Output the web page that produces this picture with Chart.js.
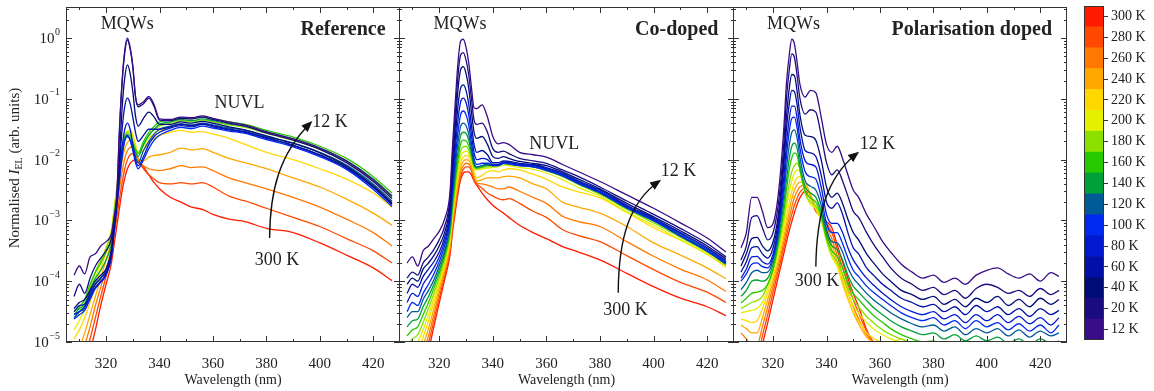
<!DOCTYPE html>
<html>
<head>
<meta charset="utf-8">
<script src="https://cdn.jsdelivr.net/npm/chart.js@4.4.1/dist/chart.umd.min.js"></script>
<style>
  body { margin: 0; background: #fff; }
  #wrap { position: relative; width: 1154px; height: 391px; }
  canvas { position: absolute; top: 0; }
</style>
</head>
<body>
<div id="wrap">
  <canvas id="pRef" width="400" height="391" style="left:0"></canvas>
  <canvas id="pCod" width="335" height="391" style="left:399px"></canvas>
  <canvas id="pPol" width="334" height="391" style="left:733px"></canvas>
  <canvas id="pBar" width="79" height="391" style="left:1075px"></canvas>
</div>
<script>
// temperatures, coldest first (12 K is drawn on top)
const temps = [12, 20, 40, 60, 80, 100, 120, 140, 160, 180, 200, 220, 240, 260, 280, 300];
const tempLabels = temps.map(t => t + ' K');
const colours = ['#3a0c88', '#1a0c80', '#000c78', '#0010a8', '#0018d0', '#0028f0', '#005a96', '#00a038',
                 '#28c800', '#8ce000', '#e4f000', '#ffd800', '#ffa800', '#ff7800', '#ff4800', '#ff1a00'];

// values are log10 of the normalised EL intensity, one row per temperature
const wlRef = [308,310,312,314,316,318,320,322,323,324,325,326,327,328,329,330,331,332,334,336,338,340,344,348,352,356,360,366,372,380,390,400,410,420,427];
const refLog = [
  [-3.9,-3.75,-3.88,-3.6,-3.55,-3.42,-3.35,-3.22,-2.95,-2.6,-1.5,-0.7,-0.2,0,-0.15,-0.45,-0.95,-1.1,-1.05,-0.96,-1.1,-1.33,-1.34,-1.3,-1.31,-1.28,-1.32,-1.38,-1.43,-1.54,-1.66,-1.81,-2.02,-2.33,-2.6],
  [-4.25,-4.05,-4.2,-3.95,-3.75,-3.62,-3.5,-3.3,-3.0,-2.62,-1.55,-0.74,-0.24,-0.03,-0.18,-0.48,-0.97,-1.13,-1.08,-0.99,-1.13,-1.35,-1.36,-1.32,-1.33,-1.3,-1.34,-1.4,-1.45,-1.56,-1.68,-1.83,-2.05,-2.36,-2.64],
  [-4.45,-4.35,-4.3,-4.15,-4.0,-3.9,-3.8,-3.5,-3.1,-2.7,-1.95,-1.15,-0.65,-0.44,-0.58,-0.88,-1.28,-1.45,-1.32,-1.22,-1.3,-1.42,-1.42,-1.38,-1.4,-1.37,-1.4,-1.46,-1.51,-1.61,-1.73,-1.89,-2.11,-2.43,-2.71],
  [-4.5,-4.4,-4.38,-4.2,-4.05,-3.95,-3.85,-3.55,-3.1,-2.7,-2.1,-1.5,-1.12,-0.99,-1.08,-1.3,-1.55,-1.7,-1.6,-1.5,-1.5,-1.5,-1.46,-1.42,-1.44,-1.41,-1.44,-1.5,-1.54,-1.64,-1.76,-1.92,-2.13,-2.45,-2.73],
  [-4.55,-4.5,-4.42,-4.25,-4.1,-4.0,-3.88,-3.58,-3.15,-2.75,-2.25,-1.8,-1.5,-1.4,-1.5,-1.75,-2.0,-2.1,-1.95,-1.75,-1.62,-1.55,-1.48,-1.44,-1.46,-1.42,-1.46,-1.51,-1.55,-1.65,-1.77,-1.93,-2.14,-2.46,-2.74],
  [-4.62,-4.55,-4.48,-4.3,-4.12,-4.02,-3.9,-3.6,-3.2,-2.8,-2.35,-1.95,-1.68,-1.6,-1.68,-1.85,-2.05,-2.15,-2.0,-1.82,-1.68,-1.6,-1.52,-1.47,-1.49,-1.45,-1.48,-1.53,-1.57,-1.67,-1.79,-1.95,-2.16,-2.49,-2.77],
  [-4.6,-4.5,-4.45,-4.25,-4.05,-3.95,-3.8,-3.5,-3.1,-2.75,-2.3,-1.93,-1.68,-1.62,-1.68,-1.8,-1.95,-2.05,-1.85,-1.7,-1.58,-1.5,-1.45,-1.41,-1.43,-1.4,-1.43,-1.48,-1.52,-1.62,-1.73,-1.88,-2.09,-2.4,-2.68],
  [-4.55,-4.45,-4.38,-4.15,-3.95,-3.82,-3.65,-3.38,-3.0,-2.65,-2.22,-1.88,-1.67,-1.62,-1.66,-1.76,-1.88,-1.95,-1.75,-1.6,-1.5,-1.42,-1.38,-1.34,-1.36,-1.33,-1.36,-1.41,-1.45,-1.55,-1.66,-1.81,-2.02,-2.32,-2.6],
  [-4.5,-4.42,-4.3,-4.05,-3.85,-3.7,-3.52,-3.28,-2.92,-2.58,-2.15,-1.83,-1.63,-1.58,-1.62,-1.72,-1.83,-1.9,-1.7,-1.55,-1.45,-1.38,-1.35,-1.31,-1.33,-1.3,-1.33,-1.38,-1.42,-1.52,-1.63,-1.78,-1.98,-2.28,-2.55],
  [-4.62,-4.5,-4.35,-4.1,-3.85,-3.65,-3.45,-3.2,-2.85,-2.5,-2.1,-1.8,-1.6,-1.55,-1.58,-1.7,-1.82,-1.88,-1.75,-1.6,-1.5,-1.45,-1.4,-1.36,-1.38,-1.35,-1.38,-1.43,-1.47,-1.57,-1.68,-1.83,-2.04,-2.34,-2.62],
  [-4.8,-4.65,-4.45,-4.2,-3.95,-3.7,-3.45,-3.15,-2.8,-2.45,-2.08,-1.8,-1.6,-1.53,-1.52,-1.62,-1.78,-1.88,-1.78,-1.65,-1.57,-1.52,-1.47,-1.43,-1.45,-1.42,-1.45,-1.5,-1.55,-1.65,-1.77,-1.92,-2.12,-2.42,-2.7],
  [-4.95,-4.8,-4.6,-4.35,-4.08,-3.8,-3.52,-3.2,-2.85,-2.5,-2.15,-1.85,-1.65,-1.55,-1.52,-1.58,-1.75,-1.9,-1.85,-1.72,-1.65,-1.6,-1.55,-1.52,-1.55,-1.54,-1.58,-1.65,-1.75,-1.88,-2.0,-2.15,-2.32,-2.55,-2.78],
  [-5.3,-5.1,-4.85,-4.55,-4.25,-3.95,-3.65,-3.32,-2.98,-2.65,-2.32,-2.02,-1.82,-1.72,-1.68,-1.68,-1.8,-1.98,-2.02,-1.96,-1.93,-1.92,-1.88,-1.81,-1.84,-1.82,-1.88,-1.98,-2.05,-2.15,-2.3,-2.45,-2.65,-2.88,-3.08],
  [-5.5,-5.3,-5.05,-4.75,-4.4,-4.1,-3.8,-3.45,-3.12,-2.8,-2.48,-2.2,-1.98,-1.85,-1.8,-1.78,-1.85,-2.0,-2.1,-2.15,-2.17,-2.18,-2.15,-2.1,-2.13,-2.12,-2.18,-2.3,-2.38,-2.48,-2.62,-2.78,-2.98,-3.2,-3.42],
  [-5.7,-5.5,-5.25,-4.95,-4.6,-4.25,-3.92,-3.58,-3.25,-2.95,-2.65,-2.38,-2.15,-2.0,-1.92,-1.9,-1.92,-2.02,-2.15,-2.25,-2.32,-2.38,-2.4,-2.38,-2.4,-2.38,-2.45,-2.6,-2.68,-2.8,-2.95,-3.1,-3.3,-3.5,-3.7],
  [-5.9,-5.7,-5.45,-5.15,-4.8,-4.4,-4.05,-3.7,-3.4,-3.1,-2.8,-2.52,-2.3,-2.15,-2.06,-2.02,-2.0,-2.05,-2.12,-2.25,-2.38,-2.48,-2.62,-2.7,-2.78,-2.82,-2.9,-2.98,-3.02,-3.13,-3.2,-3.37,-3.57,-3.78,-3.99]
];

const wlCod = [308,310,312,314,316,318,320,322,324,325,326,327,328,329,330,331,332,333,334,336,338,340,342,344,346,350,355,360,366,372,380,390,400,410,420,427];
const codLog = [
  [-3.7,-3.6,-3.75,-3.5,-3.42,-3.3,-3.18,-2.98,-2.55,-1.75,-1.05,-0.41,-0.05,-0.02,-0.15,-0.4,-0.8,-1.15,-1.16,-1.1,-1.3,-1.62,-1.74,-1.72,-1.75,-1.88,-1.92,-1.96,-2.08,-2.2,-2.36,-2.58,-2.8,-3.04,-3.29,-3.52],
  [-3.95,-3.85,-3.9,-3.7,-3.6,-3.48,-3.32,-3.1,-2.65,-1.9,-1.25,-0.62,-0.28,-0.24,-0.36,-0.6,-0.98,-1.35,-1.42,-1.4,-1.55,-1.82,-1.88,-1.86,-1.9,-1.98,-2.02,-2.06,-2.17,-2.28,-2.45,-2.68,-2.9,-3.13,-3.38,-3.6],
  [-4.05,-3.95,-4.0,-3.8,-3.7,-3.58,-3.42,-3.2,-2.75,-2.05,-1.45,-0.85,-0.52,-0.47,-0.58,-0.82,-1.2,-1.55,-1.65,-1.62,-1.75,-1.95,-1.98,-1.95,-1.98,-2.03,-2.06,-2.1,-2.2,-2.32,-2.48,-2.72,-2.94,-3.17,-3.42,-3.63],
  [-4.2,-4.05,-4.1,-3.92,-3.8,-3.68,-3.52,-3.28,-2.85,-2.2,-1.65,-1.12,-0.82,-0.77,-0.86,-1.08,-1.42,-1.75,-1.88,-1.85,-1.92,-2.05,-2.05,-2.02,-2.03,-2.06,-2.08,-2.13,-2.22,-2.35,-2.5,-2.75,-2.96,-3.2,-3.45,-3.66],
  [-4.35,-4.2,-4.25,-4.05,-3.92,-3.78,-3.6,-3.35,-2.92,-2.32,-1.82,-1.35,-1.05,-0.99,-1.06,-1.26,-1.58,-1.88,-2.0,-1.98,-2.0,-2.08,-2.08,-2.04,-2.05,-2.08,-2.1,-2.15,-2.24,-2.37,-2.52,-2.77,-2.98,-3.22,-3.47,-3.68],
  [-4.5,-4.35,-4.4,-4.2,-4.05,-3.88,-3.68,-3.42,-3.0,-2.45,-1.98,-1.55,-1.26,-1.2,-1.26,-1.43,-1.72,-1.98,-2.08,-2.06,-2.06,-2.1,-2.1,-2.06,-2.07,-2.1,-2.12,-2.17,-2.26,-2.39,-2.54,-2.79,-3.0,-3.25,-3.5,-3.7],
  [-4.6,-4.5,-4.5,-4.3,-4.15,-3.98,-3.75,-3.5,-3.08,-2.58,-2.12,-1.72,-1.45,-1.4,-1.44,-1.58,-1.82,-2.05,-2.12,-2.1,-2.08,-2.1,-2.1,-2.06,-2.07,-2.1,-2.12,-2.18,-2.27,-2.4,-2.55,-2.8,-3.01,-3.26,-3.51,-3.72],
  [-4.75,-4.65,-4.62,-4.42,-4.25,-4.05,-3.82,-3.55,-3.15,-2.68,-2.25,-1.88,-1.6,-1.55,-1.57,-1.68,-1.88,-2.08,-2.13,-2.1,-2.08,-2.08,-2.08,-2.04,-2.05,-2.08,-2.1,-2.16,-2.25,-2.38,-2.53,-2.78,-2.99,-3.24,-3.49,-3.7],
  [-4.9,-4.8,-4.75,-4.55,-4.35,-4.12,-3.88,-3.6,-3.2,-2.76,-2.35,-2.0,-1.74,-1.68,-1.69,-1.77,-1.93,-2.1,-2.14,-2.12,-2.1,-2.09,-2.09,-2.05,-2.06,-2.09,-2.1,-2.16,-2.26,-2.39,-2.55,-2.8,-3.01,-3.26,-3.5,-3.71],
  [-5.05,-4.95,-4.88,-4.68,-4.45,-4.2,-3.95,-3.65,-3.25,-2.83,-2.45,-2.1,-1.85,-1.79,-1.78,-1.84,-1.98,-2.12,-2.15,-2.13,-2.12,-2.11,-2.1,-2.07,-2.08,-2.1,-2.12,-2.18,-2.28,-2.41,-2.57,-2.82,-3.04,-3.28,-3.52,-3.73],
  [-5.2,-5.1,-5.0,-4.8,-4.55,-4.28,-4.0,-3.7,-3.3,-2.9,-2.53,-2.2,-1.95,-1.88,-1.86,-1.9,-2.02,-2.14,-2.17,-2.15,-2.14,-2.13,-2.12,-2.09,-2.1,-2.13,-2.16,-2.22,-2.33,-2.46,-2.6,-2.86,-3.08,-3.32,-3.56,-3.75],
  [-5.4,-5.25,-5.12,-4.92,-4.65,-4.35,-4.05,-3.75,-3.35,-2.95,-2.6,-2.28,-2.04,-1.96,-1.93,-1.95,-2.05,-2.2,-2.3,-2.26,-2.2,-2.18,-2.2,-2.17,-2.15,-2.17,-2.24,-2.32,-2.45,-2.53,-2.63,-2.87,-3.12,-3.32,-3.55,-3.77],
  [-5.6,-5.45,-5.3,-5.05,-4.78,-4.45,-4.12,-3.8,-3.4,-3.0,-2.67,-2.36,-2.12,-2.03,-2.0,-2.01,-2.1,-2.26,-2.35,-2.33,-2.3,-2.3,-2.3,-2.28,-2.27,-2.3,-2.4,-2.48,-2.7,-2.78,-2.88,-3.1,-3.37,-3.57,-3.78,-3.96],
  [-5.8,-5.62,-5.48,-5.2,-4.9,-4.55,-4.2,-3.86,-3.46,-3.06,-2.73,-2.43,-2.2,-2.1,-2.06,-2.07,-2.14,-2.3,-2.38,-2.4,-2.42,-2.45,-2.48,-2.48,-2.45,-2.52,-2.62,-2.72,-2.93,-3.02,-3.1,-3.35,-3.59,-3.8,-3.98,-4.17],
  [-6,-5.8,-5.65,-5.35,-5.02,-4.65,-4.28,-3.92,-3.52,-3.12,-2.8,-2.5,-2.27,-2.16,-2.12,-2.12,-2.18,-2.33,-2.4,-2.47,-2.55,-2.6,-2.64,-2.66,-2.64,-2.72,-2.85,-2.95,-3.15,-3.25,-3.35,-3.58,-3.81,-4.02,-4.18,-4.35],
  [-6.2,-6,-5.82,-5.5,-5.15,-4.75,-4.36,-3.98,-3.58,-3.18,-2.86,-2.56,-2.33,-2.22,-2.2,-2.2,-2.25,-2.35,-2.42,-2.55,-2.66,-2.75,-2.82,-2.88,-2.95,-3.08,-3.2,-3.3,-3.43,-3.52,-3.65,-3.87,-4.09,-4.28,-4.42,-4.57]
];

const wlPol = [308,310,312,314,316,318,320,322,324,325,326,327,328,329,330,332,334,336,338,340,342,344,346,348,350,352,355,358,361,364,368,372,376,380,384,388,392,396,400,404,408,412,416,420,424,427];
const polLog = [
  [-3.45,-3.2,-2.62,-2.62,-2.85,-3.12,-3.05,-2.55,-1.5,-0.75,-0.3,-0.02,-0.1,-0.4,-0.75,-0.97,-0.86,-0.9,-1.3,-1.75,-1.88,-1.78,-1.98,-2.25,-2.5,-2.62,-2.9,-3.12,-3.35,-3.52,-3.72,-3.85,-3.95,-3.9,-4.02,-3.95,-4.05,-3.9,-3.82,-3.78,-3.88,-3.95,-3.88,-4.0,-3.86,-3.92],
  [-3.65,-3.42,-2.95,-2.92,-3.12,-3.32,-3.2,-2.72,-1.75,-1.0,-0.55,-0.26,-0.32,-0.62,-0.98,-1.25,-1.18,-1.22,-1.6,-2.05,-2.25,-2.17,-2.35,-2.6,-2.85,-2.95,-3.2,-3.42,-3.6,-3.78,-3.95,-4.05,-4.15,-4.1,-4.22,-4.15,-4.28,-4.12,-4.05,-4.1,-4.2,-4.15,-4.25,-4.12,-4.22,-4.15],
  [-3.75,-3.55,-3.3,-3.28,-3.42,-3.5,-3.35,-2.9,-1.95,-1.3,-0.85,-0.6,-0.62,-0.88,-1.25,-1.6,-1.62,-1.68,-2.0,-2.45,-2.62,-2.55,-2.72,-2.98,-3.2,-3.32,-3.55,-3.72,-3.88,-4.0,-4.15,-4.22,-4.3,-4.25,-4.38,-4.3,-4.42,-4.28,-4.35,-4.25,-4.4,-4.3,-4.42,-4.28,-4.38,-4.3],
  [-3.85,-3.68,-3.45,-3.43,-3.55,-3.62,-3.45,-3.0,-2.1,-1.5,-1.1,-0.86,-0.88,-1.1,-1.45,-1.85,-1.89,-1.95,-2.25,-2.7,-2.8,-2.71,-2.9,-3.2,-3.45,-3.55,-3.78,-3.92,-4.05,-4.15,-4.28,-4.35,-4.42,-4.38,-4.5,-4.42,-4.55,-4.4,-4.5,-4.42,-4.55,-4.45,-4.58,-4.45,-4.55,-4.48],
  [-3.95,-3.8,-3.6,-3.59,-3.68,-3.72,-3.55,-3.1,-2.3,-1.75,-1.35,-1.12,-1.12,-1.32,-1.65,-2.02,-2.08,-2.12,-2.45,-2.9,-3.05,-3.05,-3.2,-3.45,-3.65,-3.78,-3.95,-4.08,-4.2,-4.3,-4.42,-4.5,-4.55,-4.5,-4.62,-4.55,-4.68,-4.55,-4.65,-4.55,-4.68,-4.58,-4.7,-4.6,-4.72,-4.6],
  [-4.0,-3.88,-3.72,-3.7,-3.76,-3.78,-3.6,-3.15,-2.45,-1.95,-1.55,-1.32,-1.3,-1.48,-1.8,-2.2,-2.28,-2.32,-2.62,-3.05,-3.2,-3.2,-3.38,-3.62,-3.82,-3.92,-4.08,-4.2,-4.3,-4.4,-4.52,-4.6,-4.65,-4.6,-4.72,-4.65,-4.78,-4.65,-4.75,-4.68,-4.8,-4.7,-4.82,-4.72,-4.85,-4.72],
  [-4.14,-4.02,-3.86,-3.82,-3.86,-3.85,-3.65,-3.22,-2.58,-2.15,-1.78,-1.55,-1.51,-1.65,-1.95,-2.35,-2.44,-2.5,-2.75,-3.15,-3.35,-3.37,-3.52,-3.78,-3.95,-4.05,-4.2,-4.32,-4.42,-4.52,-4.62,-4.7,-4.75,-4.72,-4.82,-4.75,-4.88,-4.78,-4.85,-4.78,-4.9,-4.8,-4.92,-4.82,-4.9,-4.85],
  [-4.25,-4.15,-4.0,-3.98,-4.0,-3.95,-3.72,-3.3,-2.72,-2.35,-2.0,-1.78,-1.73,-1.82,-2.08,-2.45,-2.55,-2.62,-2.85,-3.22,-3.42,-3.48,-3.65,-3.9,-4.08,-4.18,-4.32,-4.45,-4.55,-4.65,-4.75,-4.82,-4.88,-4.85,-4.95,-4.88,-4.98,-4.9,-4.98,-4.92,-5.02,-4.95,-5.05,-4.95,-5.02,-4.98],
  [-4.36,-4.28,-4.2,-4.18,-4.15,-4.05,-3.8,-3.38,-2.85,-2.5,-2.18,-1.97,-1.89,-1.93,-2.15,-2.52,-2.63,-2.7,-2.92,-3.28,-3.5,-3.59,-3.78,-4.02,-4.2,-4.3,-4.45,-4.58,-4.68,-4.78,-4.88,-4.95,-5.0,-4.98,-5.08,-5.0,-5.1,-5.02,-5.12,-5.05,-5.15,-5.08,-5.18,-5.1,-5.18,-5.12],
  [-4.45,-4.4,-4.35,-4.32,-4.25,-4.05,-3.8,-3.42,-2.98,-2.68,-2.4,-2.2,-2.1,-2.06,-2.15,-2.55,-2.7,-2.76,-2.97,-3.32,-3.56,-3.68,-3.88,-4.12,-4.3,-4.42,-4.58,-4.7,-4.8,-4.88,-4.95,-5.02,-5.05,-5.0,-5.12,-5.05,-5.15,-5.1,-5.2,-5.12,-5.22,-5.15,-5.25,-5.18,-5.25,-5.2],
  [-4.52,-4.5,-4.48,-4.45,-4.35,-4.12,-3.85,-3.5,-3.08,-2.8,-2.55,-2.35,-2.22,-2.17,-2.2,-2.55,-2.74,-2.8,-3.0,-3.35,-3.6,-3.75,-3.95,-4.2,-4.4,-4.52,-4.68,-4.8,-4.88,-4.95,-5.0,-5.05,-5.1,-5.05,-5.15,-5.1,-5.2,-5.15,-5.25,-5.2,-5.3,-5.2,-5.3,-5.25,-5.3,-5.25],
  [-4.62,-4.65,-4.68,-4.65,-4.45,-4.2,-3.92,-3.58,-3.18,-2.95,-2.72,-2.52,-2.38,-2.3,-2.28,-2.4,-2.65,-2.82,-3.0,-3.25,-3.48,-3.75,-4.05,-4.3,-4.5,-4.65,-4.85,-4.95,-5.0,-5.02,-4.95,-5.05,-5.0,-5.1,-5.0,-5.12,-5.05,-5.15,-5.1,-5.2,-5.1,-5.2,-5.15,-5.2,-5.15,-5.2],
  [-4.72,-4.78,-4.85,-4.85,-4.6,-4.3,-4.0,-3.66,-3.28,-3.06,-2.85,-2.65,-2.5,-2.41,-2.37,-2.38,-2.6,-2.8,-2.98,-3.2,-3.4,-3.68,-4.0,-4.28,-4.52,-4.7,-4.92,-5.02,-5.05,-5.1,-5.0,-5.12,-5.05,-5.15,-5.05,-5.15,-5.1,-5.2,-5.15,-5.25,-5.15,-5.25,-5.2,-5.25,-5.2,-5.25],
  [-4.85,-4.95,-5.05,-5.05,-4.75,-4.42,-4.08,-3.74,-3.36,-3.16,-2.96,-2.78,-2.62,-2.52,-2.45,-2.41,-2.58,-2.8,-2.95,-3.12,-3.3,-3.58,-3.9,-4.18,-4.42,-4.62,-4.88,-5.02,-5.08,-5.12,-5.05,-5.15,-5.1,-5.2,-5.1,-5.2,-5.15,-5.25,-5.2,-5.3,-5.2,-5.3,-5.25,-5.3,-5.25,-5.3],
  [-5.0,-5.1,-5.2,-5.25,-4.9,-4.55,-4.18,-3.82,-3.45,-3.26,-3.07,-2.9,-2.75,-2.63,-2.54,-2.47,-2.6,-2.82,-2.93,-3.05,-3.2,-3.48,-3.78,-4.05,-4.3,-4.52,-4.82,-5.02,-5.1,-5.15,-5.08,-5.2,-5.15,-5.25,-5.15,-5.25,-5.2,-5.3,-5.25,-5.35,-5.25,-5.35,-5.3,-5.35,-5.3,-5.35],
  [-5.2,-5.3,-5.4,-5.45,-5.05,-4.68,-4.3,-3.92,-3.55,-3.36,-3.18,-3.02,-2.87,-2.74,-2.63,-2.52,-2.62,-2.85,-2.93,-3.02,-3.12,-3.4,-3.68,-3.95,-4.2,-4.42,-4.8,-5.05,-5.15,-5.2,-5.1,-5.25,-5.2,-5.3,-5.2,-5.3,-5.25,-5.35,-5.3,-5.4,-5.3,-5.4,-5.35,-5.4,-5.35,-5.4]
];

const SERIF = '"Liberation Serif", "Times New Roman", serif';
const INK = '#222';

function makeSets(wl, rows) {
  return rows.map((r, i) => ({
    label: tempLabels[i],
    data: r.map((e, j) => ({ x: wl[j], y: Math.pow(10, e) })),
    borderColor: colours[i],
    borderWidth: 1.3,
    pointRadius: 0,
    fill: false,
    cubicInterpolationMode: 'monotone'
  }));
}

// frame, inward ticks, labels and annotations
const panelDecor = {
  id: 'panelDecor',
  afterDraw(chart, args, o) {
    const { ctx, chartArea: a } = chart;
    const xs = chart.scales.x, ys = chart.scales.y;
    const X = v => xs.getPixelForValue(v);
    const Y = e => ys.getPixelForValue(Math.pow(10, e));
    ctx.save();
    ctx.strokeStyle = '#333';
    ctx.lineWidth = 1;
    ctx.strokeRect(a.left + 0.5, a.top + 0.5, a.width - 1, a.height - 1);
    ctx.beginPath();
    for (let v = 310; v < 430; v += 10) {
      const px = Math.round(X(v)) + 0.5, len = v % 20 === 0 ? 6 : 3;
      ctx.moveTo(px, a.bottom); ctx.lineTo(px, a.bottom - len);
      ctx.moveTo(px, a.top); ctx.lineTo(px, a.top + len);
    }
    for (let e = -5; e <= 0; e++) {
      for (let m = 1; m < 10; m++) {
        const val = m * Math.pow(10, e);
        if (val > ys.max) break;
        const py = Math.round(ys.getPixelForValue(val)) + 0.5, len = m === 1 ? 6 : 3;
        ctx.moveTo(a.left, py); ctx.lineTo(a.left + len, py);
        ctx.moveTo(a.right, py); ctx.lineTo(a.right - len, py);
      }
    }
    ctx.stroke();

    ctx.fillStyle = INK;
    if (o.yLabels) {
      ctx.textBaseline = 'middle';
      for (let e = -5; e <= 0; e++) {
        const py = Y(e), right = a.left - 6;
        const sup = e === 0 ? '0' : '\u2212' + (-e);
        ctx.font = '10px ' + SERIF;
        const sw = ctx.measureText(sup).width;
        ctx.textAlign = 'left';
        ctx.fillText(sup, right - sw, py - 6);
        ctx.font = '15px ' + SERIF;
        ctx.textAlign = 'right';
        ctx.fillText('10', right - sw - 0.5, py + 1);
      }
      // y axis title with italic I and subscript EL
      const parts = [['Normalised ', '15px ' + SERIF, 0], ['I', 'italic 15px ' + SERIF, 0],
                     ['EL', '10px ' + SERIF, 4], [' (arb. units)', '15px ' + SERIF, 0]];
      let total = 0;
      parts.forEach(p => { ctx.font = p[1]; total += ctx.measureText(p[0]).width; });
      ctx.save();
      ctx.translate(15, 168);
      ctx.rotate(-Math.PI / 2);
      ctx.textAlign = 'left';
      ctx.textBaseline = 'middle';
      let cx = -total / 2;
      parts.forEach(p => { ctx.font = p[1]; ctx.fillText(p[0], cx, p[2]); cx += ctx.measureText(p[0]).width; });
      ctx.restore();
    }

    ctx.font = '14px ' + SERIF;
    ctx.textAlign = 'center';
    ctx.textBaseline = 'middle';
    ctx.fillText('Wavelength (nm)', (a.left + a.right) / 2, a.bottom + 38);

    ctx.font = 'bold 20px ' + SERIF;
    ctx.textAlign = 'right';
    ctx.fillText(o.title, X(o.titleAt[0]), Y(o.titleAt[1]));

    ctx.font = '18px ' + SERIF;
    ctx.textAlign = 'center';
    o.notes.forEach(n => ctx.fillText(n[0], X(n[1]), Y(n[2])));

    // curved arrow from 300 K up to 12 K
    const p = o.arrow.map(q => [X(q[0]), Y(q[1])]);
    ctx.strokeStyle = '#111';
    ctx.lineWidth = 1.4;
    ctx.beginPath();
    ctx.moveTo(p[0][0], p[0][1]);
    ctx.bezierCurveTo(p[1][0], p[1][1], p[2][0], p[2][1], p[3][0], p[3][1]);
    ctx.stroke();
    const ang = Math.atan2(p[3][1] - p[2][1], p[3][0] - p[2][0]);
    ctx.fillStyle = '#111';
    ctx.beginPath();
    ctx.moveTo(p[3][0] + 3 * Math.cos(ang), p[3][1] + 3 * Math.sin(ang));
    ctx.lineTo(p[3][0] - 8 * Math.cos(ang) - 4.5 * Math.sin(ang), p[3][1] - 8 * Math.sin(ang) + 4.5 * Math.cos(ang));
    ctx.lineTo(p[3][0] - 8 * Math.cos(ang) + 4.5 * Math.sin(ang), p[3][1] - 8 * Math.sin(ang) - 4.5 * Math.cos(ang));
    ctx.closePath();
    ctx.fill();
    ctx.restore();
  }
};

function panel(id, wl, rows, showY, decor) {
  new Chart(document.getElementById(id), {
    type: 'line',
    data: { datasets: makeSets(wl, rows) },
    plugins: [panelDecor],
    options: {
      responsive: false,
      animation: false,
      devicePixelRatio: 1,
      layout: { padding: { top: 7, right: 0, left: 0, bottom: 0 } },
      plugins: { legend: { display: false }, tooltip: { enabled: false }, panelDecor: decor },
      scales: {
        x: {
          type: 'linear', min: 305, max: 430,
          afterFit: s => { s.height = 49; },
          grid: { display: false }, border: { display: false },
          ticks: { stepSize: 20, includeBounds: false, maxRotation: 0, padding: 5, color: INK,
                   font: { family: SERIF, size: 15 } }
        },
        y: {
          type: 'logarithmic', min: 1e-5, max: 3.24,
          display: showY,
          afterFit: s => { s.width = showY ? 66 : 0; },
          grid: { display: false }, border: { display: false },
          ticks: { display: false }
        }
      }
    }
  });
}

panel('pRef', wlRef, refLog, true, {
  yLabels: true, title: 'Reference', titleAt: [424.6, 0.14],
  notes: [['MQWs', 327.9, 0.22], ['NUVL', 369.9, -1.08], ['12 K', 403.8, -1.39], ['300 K', 384, -3.65]],
  arrow: [[381.2, -3.29], [381.3, -2.5], [385, -1.9], [396.4, -1.4]]
});
panel('pCod', wlCod, codLog, false, {
  yLabels: false, title: 'Co-doped', titleAt: [424.2, 0.14],
  notes: [['MQWs', 327.8, 0.22], ['NUVL', 362.9, -1.75], ['12 K', 409.3, -2.19], ['300 K', 389.5, -4.47]],
  arrow: [[386.8, -4.19], [386.9, -3.3], [391, -2.7], [401.9, -2.36]]
});
panel('pPol', wlPol, polLog, false, {
  yLabels: false, title: 'Polarisation doped', titleAt: [424.4, 0.14],
  notes: [['MQWs', 327.6, 0.22], ['12 K', 359.1, -1.74], ['300 K', 336.4, -4.0]],
  arrow: [[336, -3.76], [336.3, -2.9], [340, -2.3], [351.3, -1.9]]
});

// colour bar: one unit band per temperature
const barFrame = {
  id: 'barFrame',
  afterDraw(chart) {
    const { ctx, chartArea: a } = chart;
    ctx.save();
    ctx.strokeStyle = '#333';
    ctx.lineWidth = 1;
    ctx.strokeRect(a.left + 0.5, a.top + 0.5, a.width - 1, a.height - 1);
    ctx.restore();
  }
};
new Chart(document.getElementById('pBar'), {
  type: 'bar',
  data: {
    labels: [''],
    datasets: temps.map((t, i) => ({
      label: tempLabels[i], data: [1], backgroundColor: colours[i],
      borderWidth: 0, barPercentage: 1, categoryPercentage: 1, stack: 'cb'
    }))
  },
  plugins: [barFrame],
  options: {
    responsive: false,
    animation: false,
    devicePixelRatio: 1,
    layout: { padding: { top: 6, left: 9, right: 0, bottom: 51 } },
    plugins: { legend: { display: false }, tooltip: { enabled: false } },
    scales: {
      x: { stacked: true, display: false },
      y: {
        stacked: true, min: 0, max: temps.length, position: 'right',
        afterFit: s => { s.width = 50; s.paddingTop = 0; s.paddingBottom = 0; },
        afterBuildTicks: s => { s.ticks = temps.map((t, i) => ({ value: i + 0.5 })); },
        grid: { drawOnChartArea: false, drawTicks: true, tickLength: 4, color: '#333' },
        border: { display: false },
        ticks: { callback: (v, i) => tempLabels[i], padding: 3, color: INK, font: { family: SERIF, size: 14 } }
      }
    }
  }
});
</script>
</body>
</html>
